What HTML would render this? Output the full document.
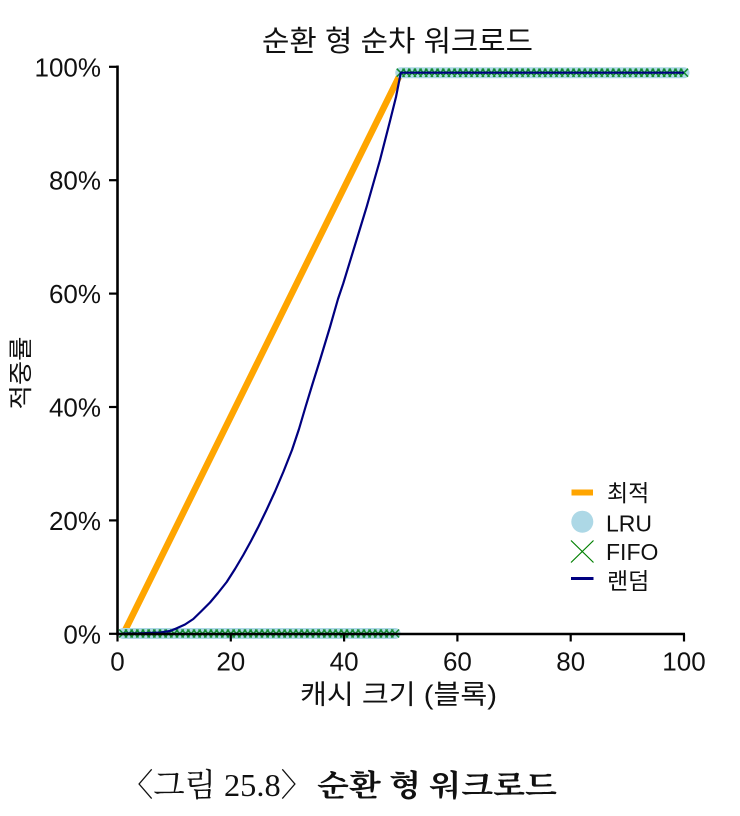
<!DOCTYPE html>
<html>
<head>
<meta charset="utf-8">
<style>
  html, body { margin: 0; padding: 0; background: #ffffff; }
  svg { display: block; }
  .sans { font-family: "Liberation Sans", "Noto Sans CJK KR", sans-serif; }
  .serif { font-family: "Liberation Serif", "Noto Serif CJK SC", serif; }
</style>
</head>
<body>
<svg width="740" height="816" viewBox="0 0 740 816" xmlns="http://www.w3.org/2000/svg">
  <rect x="0" y="0" width="740" height="816" fill="#ffffff"/>

  <!-- Title -->
  <text class="sans" x="262" y="51" font-size="29" fill="#111" textLength="271" lengthAdjust="spacingAndGlyphs">순환 형 순차 워크로드</text>

  <!-- Optimal (orange) -->
  <polyline points="123.5,633.5 401,72.7 684,72.7" fill="none" stroke="#ffa500" stroke-width="6.5" stroke-linejoin="miter"/>

  <!-- LRU circles (overlapping into a band) -->
  <line x1="123.17" y1="633.5" x2="395.09" y2="633.5" stroke="#add8e6" stroke-width="11" stroke-linecap="round"/>
  <line x1="400.75" y1="72.7" x2="684" y2="72.7" stroke="#add8e6" stroke-width="11" stroke-linecap="round"/>

  <!-- FIFO x markers -->
  <path fill="none" stroke="#138a2e" stroke-width="1.5" d="M119.17 629.5
    l8 8m0-8l-8 8m5.665-8 l8 8m0-8l-8 8m5.665-8 l8 8m0-8l-8 8m5.665-8 l8 8m0-8l-8 8m5.665-8 l8 8m0-8l-8 8m5.665-8 l8 8m0-8l-8 8m5.665-8 l8 8m0-8l-8 8m5.665-8
    l8 8m0-8l-8 8m5.665-8 l8 8m0-8l-8 8m5.665-8 l8 8m0-8l-8 8m5.665-8 l8 8m0-8l-8 8m5.665-8 l8 8m0-8l-8 8m5.665-8 l8 8m0-8l-8 8m5.665-8 l8 8m0-8l-8 8m5.665-8
    l8 8m0-8l-8 8m5.665-8 l8 8m0-8l-8 8m5.665-8 l8 8m0-8l-8 8m5.665-8 l8 8m0-8l-8 8m5.665-8 l8 8m0-8l-8 8m5.665-8 l8 8m0-8l-8 8m5.665-8 l8 8m0-8l-8 8m5.665-8
    l8 8m0-8l-8 8m5.665-8 l8 8m0-8l-8 8m5.665-8 l8 8m0-8l-8 8m5.665-8 l8 8m0-8l-8 8m5.665-8 l8 8m0-8l-8 8m5.665-8 l8 8m0-8l-8 8m5.665-8 l8 8m0-8l-8 8m5.665-8
    l8 8m0-8l-8 8m5.665-8 l8 8m0-8l-8 8m5.665-8 l8 8m0-8l-8 8m5.665-8 l8 8m0-8l-8 8m5.665-8 l8 8m0-8l-8 8m5.665-8 l8 8m0-8l-8 8m5.665-8 l8 8m0-8l-8 8m5.665-8
    l8 8m0-8l-8 8m5.665-8 l8 8m0-8l-8 8m5.665-8 l8 8m0-8l-8 8m5.665-8 l8 8m0-8l-8 8m5.665-8 l8 8m0-8l-8 8m5.665-8 l8 8m0-8l-8 8m5.665-8 l8 8m0-8l-8 8m5.665-8
    l8 8m0-8l-8 8m5.665-8 l8 8m0-8l-8 8m5.665-8 l8 8m0-8l-8 8m5.665-8 l8 8m0-8l-8 8m5.665-8 l8 8m0-8l-8 8m5.665-8 l8 8m0-8l-8 8m5.665-8 l8 8m0-8l-8 8m5.665-8"/>
  <path fill="none" stroke="#138a2e" stroke-width="1.5" d="M396.75 68.7
    l8 8m0-8l-8 8m5.665-8 l8 8m0-8l-8 8m5.665-8 l8 8m0-8l-8 8m5.665-8 l8 8m0-8l-8 8m5.665-8 l8 8m0-8l-8 8m5.665-8 l8 8m0-8l-8 8m5.665-8 l8 8m0-8l-8 8m5.665-8
    l8 8m0-8l-8 8m5.665-8 l8 8m0-8l-8 8m5.665-8 l8 8m0-8l-8 8m5.665-8 l8 8m0-8l-8 8m5.665-8 l8 8m0-8l-8 8m5.665-8 l8 8m0-8l-8 8m5.665-8 l8 8m0-8l-8 8m5.665-8
    l8 8m0-8l-8 8m5.665-8 l8 8m0-8l-8 8m5.665-8 l8 8m0-8l-8 8m5.665-8 l8 8m0-8l-8 8m5.665-8 l8 8m0-8l-8 8m5.665-8 l8 8m0-8l-8 8m5.665-8 l8 8m0-8l-8 8m5.665-8
    l8 8m0-8l-8 8m5.665-8 l8 8m0-8l-8 8m5.665-8 l8 8m0-8l-8 8m5.665-8 l8 8m0-8l-8 8m5.665-8 l8 8m0-8l-8 8m5.665-8 l8 8m0-8l-8 8m5.665-8 l8 8m0-8l-8 8m5.665-8
    l8 8m0-8l-8 8m5.665-8 l8 8m0-8l-8 8m5.665-8 l8 8m0-8l-8 8m5.665-8 l8 8m0-8l-8 8m5.665-8 l8 8m0-8l-8 8m5.665-8 l8 8m0-8l-8 8m5.665-8 l8 8m0-8l-8 8m5.665-8
    l8 8m0-8l-8 8m5.665-8 l8 8m0-8l-8 8m5.665-8 l8 8m0-8l-8 8m5.665-8 l8 8m0-8l-8 8m5.665-8 l8 8m0-8l-8 8m5.665-8 l8 8m0-8l-8 8m5.665-8 l8 8m0-8l-8 8m5.665-8
    l8 8m0-8l-8 8m5.665-8 l8 8m0-8l-8 8m5.665-8 l8 8m0-8l-8 8m5.665-8 l8 8m0-8l-8 8m5.665-8 l8 8m0-8l-8 8m5.665-8 l8 8m0-8l-8 8m5.665-8 l8 8m0-8l-8 8m5.665-8
    l8 8m0-8l-8 8m5.665-8 l8 8m0-8l-8 8m5.665-8"/>

  <!-- Random (navy) -->
  <polyline points="123,633.5 140,633.3 160,632.6 170,631 176.7,628.3 185,624.5 193.3,619 201,611.5 210,602.5 218,593 226.7,582 235,569 243.3,555 251,541 258.5,526.5 266.5,510 275,491.5 283.5,471.5 292,450 299,429 305.5,407 312.5,384 320,360 330,327 338,299 343.3,283.3 355,245 366.7,206.7 380,160 390,121 396,97 400.8,72.7 684,72.7"
            fill="none" stroke="#000080" stroke-width="2.2" stroke-linejoin="round"/>

  <!-- Axes -->
  <line x1="117.5" y1="65.5" x2="117.5" y2="635" stroke="#000" stroke-width="2.6"/>
  <line x1="116.2" y1="634" x2="685" y2="634" stroke="#000" stroke-width="2.6"/>

  <!-- Y ticks -->
  <g stroke="#000" stroke-width="2.2">
    <line x1="109" y1="66.8" x2="117.5" y2="66.8"/>
    <line x1="109" y1="180.2" x2="117.5" y2="180.2"/>
    <line x1="109" y1="293.6" x2="117.5" y2="293.6"/>
    <line x1="109" y1="407" x2="117.5" y2="407"/>
    <line x1="109" y1="520.4" x2="117.5" y2="520.4"/>
    <line x1="109" y1="633.8" x2="117.5" y2="633.8"/>
  </g>
  <g class="sans" font-size="26" fill="#111" text-anchor="end">
    <text x="101" y="76.3">100%</text>
    <text x="101" y="189.7">80%</text>
    <text x="101" y="303.1">60%</text>
    <text x="101" y="416.5">40%</text>
    <text x="101" y="529.9">20%</text>
    <text x="101" y="643.3">0%</text>
  </g>

  <!-- X ticks -->
  <g stroke="#000" stroke-width="2.2">
    <line x1="117.5" y1="634" x2="117.5" y2="641.5"/>
    <line x1="230.8" y1="634" x2="230.8" y2="641.5"/>
    <line x1="344.1" y1="634" x2="344.1" y2="641.5"/>
    <line x1="457.4" y1="634" x2="457.4" y2="641.5"/>
    <line x1="570.7" y1="634" x2="570.7" y2="641.5"/>
    <line x1="684" y1="634" x2="684" y2="641.5"/>
  </g>
  <g class="sans" font-size="26" fill="#111" text-anchor="middle">
    <text x="117.5" y="670.5">0</text>
    <text x="230.8" y="670.5">20</text>
    <text x="344.1" y="670.5">40</text>
    <text x="457.4" y="670.5">60</text>
    <text x="570.7" y="670.5">80</text>
    <text x="684" y="670.5">100</text>
  </g>

  <!-- Axis labels -->
  <text class="sans" x="300" y="704" font-size="27" fill="#111" textLength="197" lengthAdjust="spacingAndGlyphs">캐시 크기 (블록)</text>
  <text class="sans" x="0" y="0" font-size="24" fill="#111" text-anchor="middle" transform="translate(29,373) rotate(-90)" textLength="73" lengthAdjust="spacingAndGlyphs">적중률</text>

  <!-- Legend -->
  <rect x="571.5" y="489.5" width="21.5" height="6" fill="#ffa500"/>
  <text class="sans" x="607" y="501" font-size="23" fill="#111">최적</text>

  <circle cx="582.3" cy="521.7" r="11" fill="#add8e6"/>
  <text class="sans" x="606" y="531.7" font-size="23" fill="#111">LRU</text>

  <path d="M571 540.5 L593.5 562.5 M593.5 540.5 L571 562.5" stroke="#008000" stroke-width="1.2" fill="none"/>
  <text class="sans" x="606" y="560" font-size="23" fill="#111">FIFO</text>

  <line x1="571" y1="578.5" x2="593.5" y2="578.5" stroke="#000080" stroke-width="3"/>
  <text class="sans" x="607" y="589" font-size="23" fill="#111">랜덤</text>

  <!-- Caption -->
  <text class="serif" x="121" y="796" font-size="32" fill="#111" textLength="192" lengthAdjust="spacingAndGlyphs">〈그림 25.8〉</text>
  <text class="serif" x="317" y="796" font-size="30" font-weight="bold" fill="#111" textLength="240" lengthAdjust="spacingAndGlyphs">순환 형 워크로드</text>
</svg>
</body>
</html>
